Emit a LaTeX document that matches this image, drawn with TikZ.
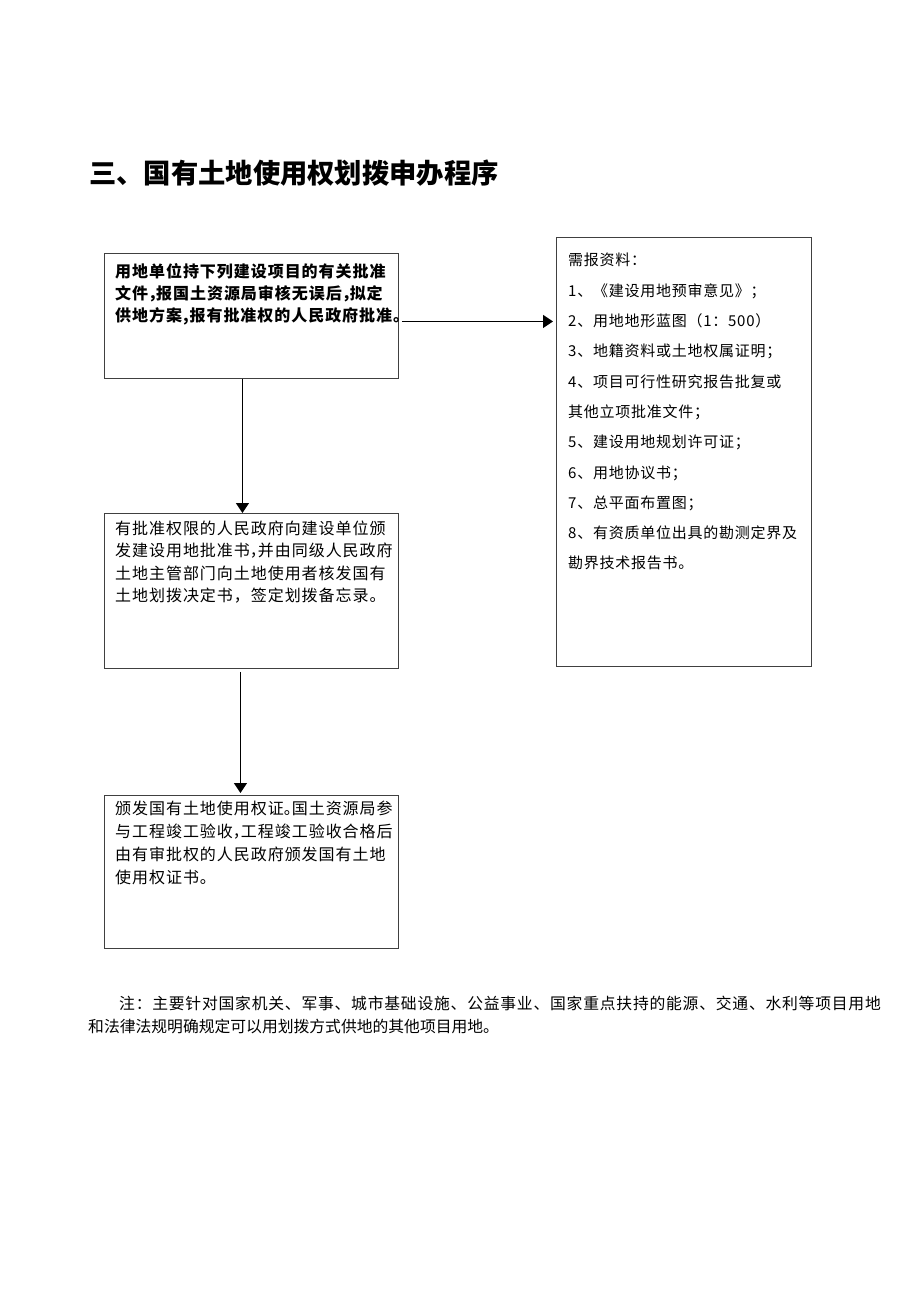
\documentclass[tikz,border=0pt]{standalone}
\usepackage{fontspec}
\setmainfont{Noto Sans CJK SC}
\usetikzlibrary{arrows.meta}
\newcommand\tp{\rule{0pt}{0.9em}}
\newcommand\hc{\makebox[0.5em][l]{，}}
\newcommand\hp{\makebox[0.5em][l]{。}}
\tikzset{
  box/.style={draw=black!75,line width=0.9pt,inner sep=0pt,anchor=north west},
  txt/.style={anchor=north west,inner sep=0pt,align=left},
  arr/.style={-{Triangle[length=10pt,width=13pt]},line width=1.5pt}
}
\begin{document}
\begin{tikzpicture}[x=1pt,y=-1pt]
\useasboundingbox[fill=white] (0,0) rectangle (920,1302);
% title
\node[anchor=base west,inner sep=0pt,font=\fontsize{27.3}{30}\selectfont\bfseries] (title) at (89,183) {三、国有土地使用权划拨申办程序};
% boxes
\node[box,minimum width=294pt,minimum height=125pt] (b1) at (104,253) {};
\node[box,minimum width=255pt,minimum height=429pt] (r) at (556,237) {};
\node[box,minimum width=294pt,minimum height=155pt] (b2) at (104,513) {};
\node[box,minimum width=294pt,minimum height=153pt] (b3) at (104,795) {};
% texts
\node[txt,font=\fontsize{16}{22}\selectfont\bfseries\addfontfeature{LetterSpace=6}] (t1) at (115,262.6)
 {\tp 用地单位持下列建设项目的有关批准\\文件\hc 报国土资源局审核无误后\hc 拟定\\供地方案,报有批准权的人民政府批准。};
\node[txt,font=\fontsize{16}{22.4}\selectfont\addfontfeature{LetterSpace=6}] (t2) at (115,519.6)
 {\tp 有批准权限的人民政府向建设单位颁\\发建设用地批准书\hc 并由同级人民政府\\土地主管部门向土地使用者核发国有\\土地划拨决定书，签定划拨备忘录。};
\node[txt,font=\fontsize{16}{23}\selectfont\addfontfeature{LetterSpace=6}] (t3) at (115,799.6)
 {\tp 颁发国有土地使用权证\hp 国土资源局参\\与工程竣工验收\hc 工程竣工验收合格后\\由有审批权的人民政府颁发国有土地\\使用权证书。};
\node[txt,font=\fontsize{15}{30.3}\selectfont\addfontfeature{LetterSpace=5}] (tr) at (568,252.2)
 {\tp 需报资料：\\1、《建设用地预审意见》；\\2、用地地形蓝图（1：500）\\3、地籍资料或土地权属证明；\\4、项目可行性研究报告批复或\\其他立项批准文件；\\5、建设用地规划许可证；\\6、用地协议书；\\7、总平面布置图；\\8、有资质单位出具的勘测定界及\\勘界技术报告书。};
% note
\node[txt,font=\fontsize{15.8}{23}\selectfont] (note) at (88,995.4)
 {\tp\hspace*{31pt}{\addfontfeature{LetterSpace=4.9}注：主要针对国家机关、军事、城市基础设施、公益事业、国家重点扶持的能源、交通、水利等项目用地}\\和法律法规明确规定可以用划拨方式供地的其他项目用地。};
% arrows
\draw[arr] ([xshift=3pt,yshift=-5.5pt]b1.east) -- ([xshift=-3pt,yshift=-5.5pt]b1.east -| r.west);
\draw[arr] ([xshift=-9pt]b1.south) -- ([xshift=-9pt]b1.south |- b2.north);
\draw[arr] ([xshift=-11pt,yshift=-3pt]b2.south) -- ([xshift=-11pt,yshift=2pt]b2.south |- b3.north);
\end{tikzpicture}
\end{document}
